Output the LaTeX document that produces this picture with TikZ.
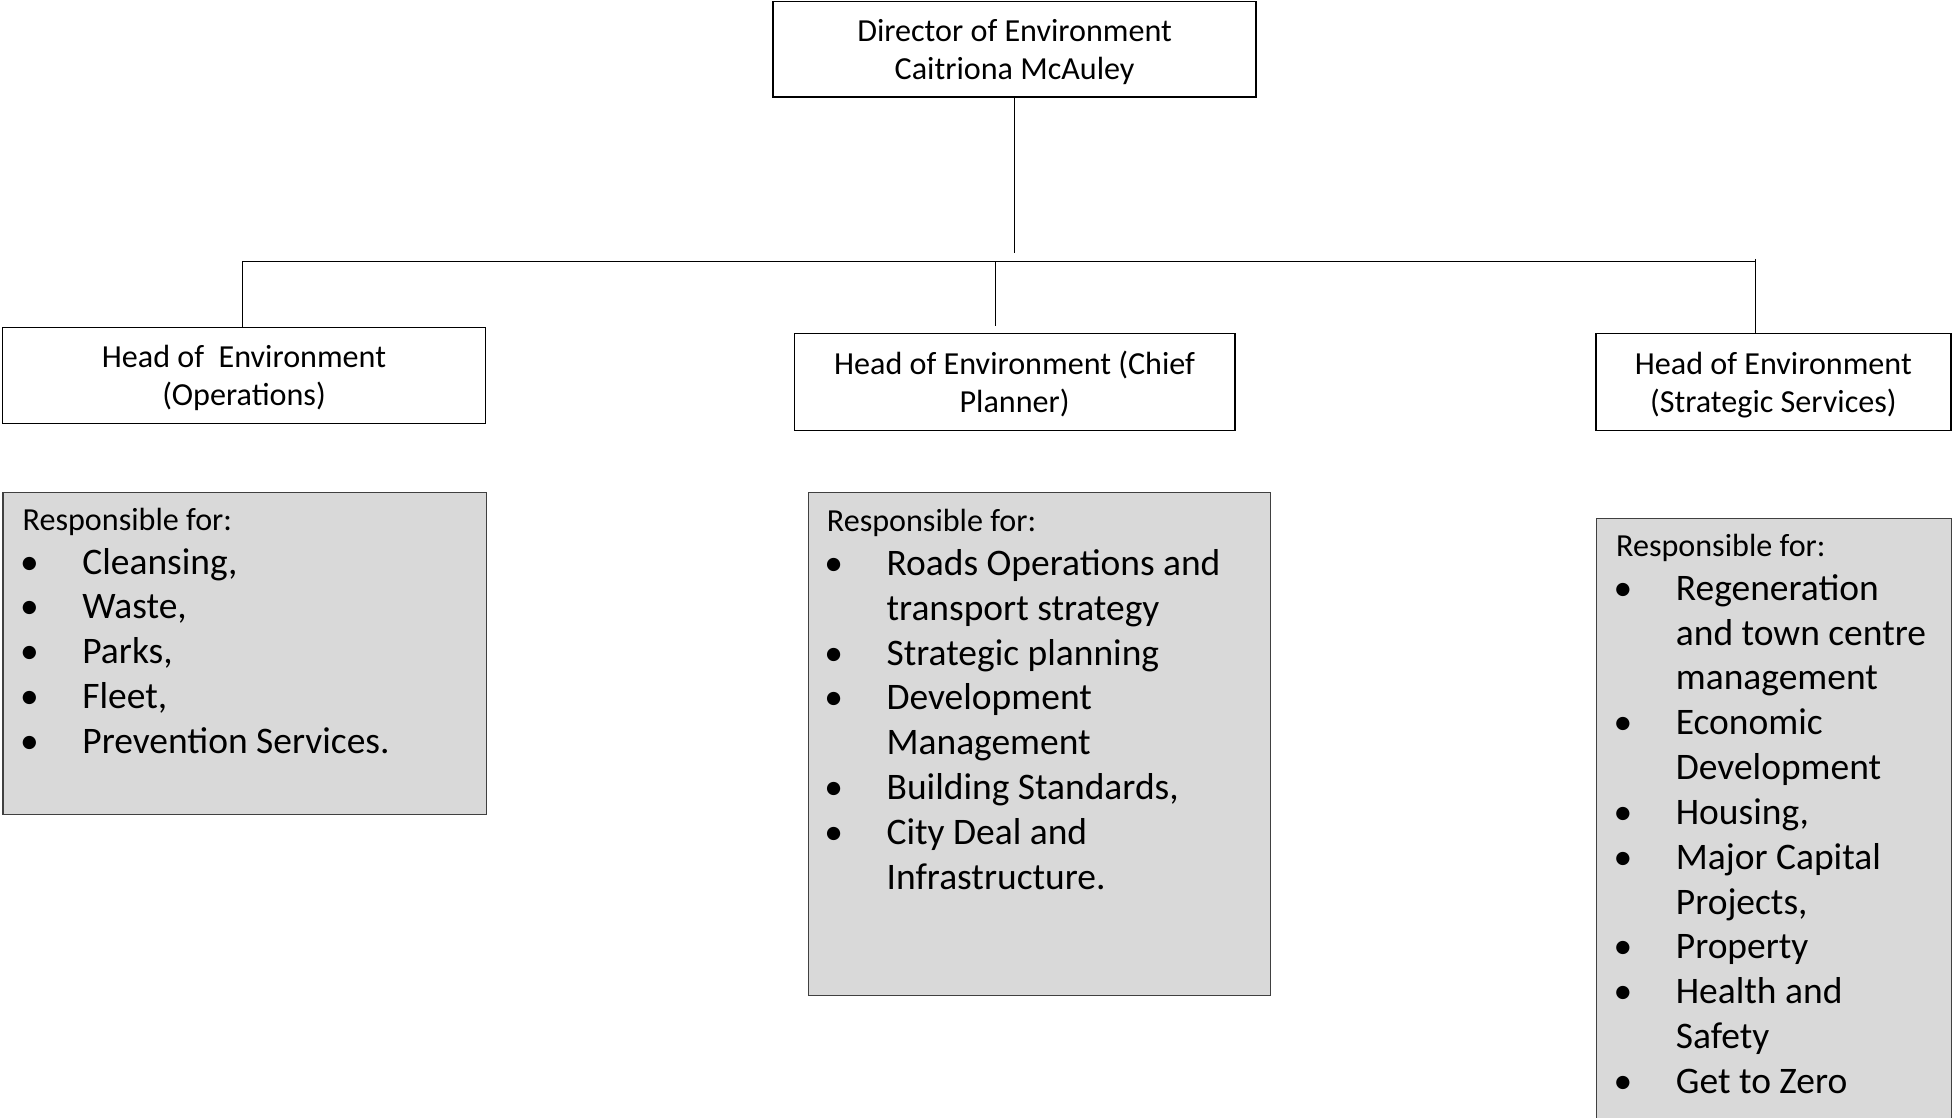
\documentclass[tikz,border=0pt]{standalone}
\usepackage{fontspec}
\setmainfont{Carlito}
\usetikzlibrary{positioning}

\definecolor{respgray}{HTML}{D9D9D9}
\newcommand{\itm}{\makebox[51pt][l]{\hspace*{1pt}\textbullet}}
\newcommand{\cnt}{\hspace*{51pt}}
\newcommand{\twolines}[2]{\rule{0pt}{27pt}#1\\#2\rule[-9pt]{0pt}{9pt}}

\tikzset{
  head/.style={draw, line width=1.2pt, minimum height=77pt, align=center,
               inner sep=0pt, font=\fontsize{25.8}{30}\selectfont},
  resp/.style={draw=black!75, line width=0.9pt, fill=respgray, anchor=north west, inner sep=0pt},
  resptitle/.style={anchor=base west, inner sep=0pt, font=\fontsize{25.8}{30}\selectfont},
  duties/.style={anchor=north west, align=left, inner sep=0pt, font=\fontsize{30.1}{36}\selectfont},
  link/.style={line width=0.8pt}
}

\begin{document}
\begin{tikzpicture}[x=1pt, y=-1pt]
    \useasboundingbox (0, 0) rectangle (1568, 898);

    % director and heads
    \node[head, minimum width=388pt] (dir) at (815, 39.5)
      {\twolines{Director of Environment}{Caitriona McAuley}};
    \node[head, minimum width=388pt] (ops) at (196, 301.5)
      {\twolines{Head of~~Environment}{(Operations)}};
    \node[head, minimum width=354pt, minimum height=78pt] (plan) at (815, 307)
      {\twolines{Head of Environment (Chief}{Planner)}};
    \node[head, minimum width=285pt, minimum height=78pt] (strat) at (1424.5, 307)
      {\twolines{Head of Environment}{(Strategic Services)}};

    % connectors
    \coordinate (dirend) at (815, 203);
    \coordinate (busL) at (195, 210);
    \coordinate (busM) at (800, 210);
    \coordinate (busR) at (1410, 210);
    \coordinate (planend) at (800, 262);
    \draw[link] (dir.south) -- (dirend);
    \draw[link] (busL) -- (busR);
    \draw[link] (busL) -- (busL |- ops.north);
    \draw[link] (busM) -- (planend);
    \draw[link] ([yshift=2pt]busR) -- (busR |- strat.north);

    % responsibilities
    \node[resp, minimum width=388pt, minimum height=259pt] (respA) at (2, 395) {};
    \node[resptitle] (titleA) at (18, 426) {Responsible for:};
    \node[duties] (listA) at (15, 435.8)
      {\strut\itm Cleansing,\\ \itm Waste,\\ \itm Parks,\\ \itm Fleet,\\ \itm Prevention Services.};

    \node[resp, minimum width=371pt, minimum height=404pt] (respB) at (649, 395) {};
    \node[resptitle] (titleB) at (664, 427) {Responsible for:};
    \node[duties] (listB) at (661, 436.8)
      {\strut\itm Roads Operations and\\ \cnt transport strategy\\ \itm Strategic planning\\
       \itm Development\\ \cnt Management\\ \itm Building Standards,\\
       \itm City Deal and\\ \cnt Infrastructure.};

    \node[resp, minimum width=285pt, minimum height=484pt] (respC) at (1282, 416) {};
    \node[resptitle] (titleC) at (1298, 447) {Responsible for:};
    \node[duties] (listC) at (1295, 456.8)
      {\strut\itm Regeneration\\ \cnt and town centre\\ \cnt management\\
       \itm Economic\\ \cnt Development\\ \itm Housing,\\
       \itm Major Capital\\ \cnt Projects,\\ \itm Property\\
       \itm Health and\\ \cnt Safety\\ \itm Get to Zero};
\end{tikzpicture}
\end{document}
